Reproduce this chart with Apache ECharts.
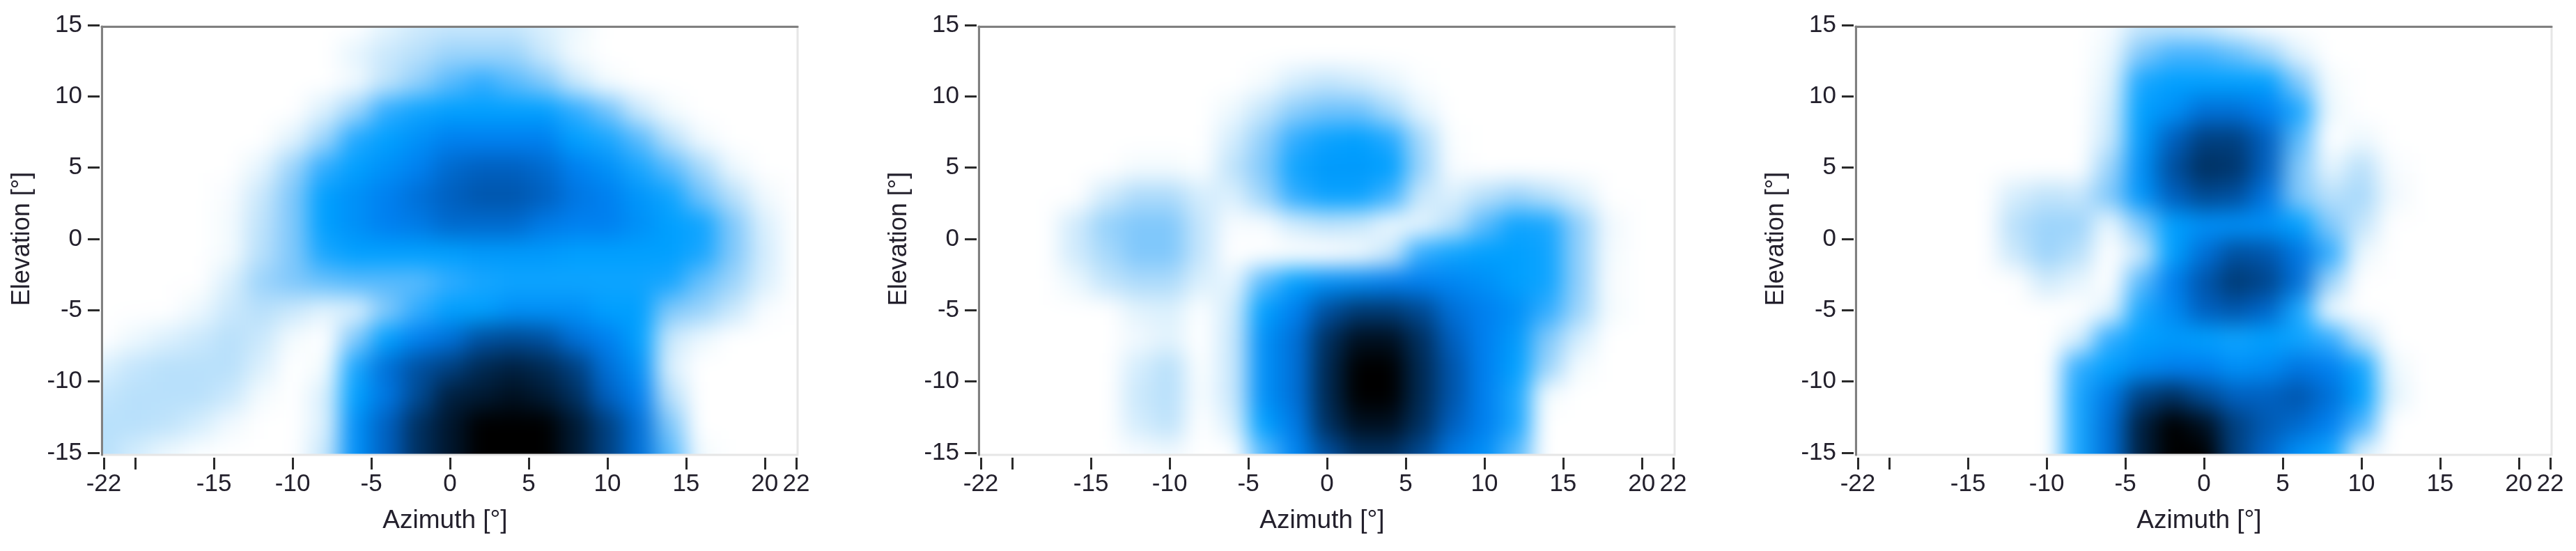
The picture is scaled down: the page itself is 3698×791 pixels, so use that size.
<!DOCTYPE html>
<html><head><meta charset="utf-8">
<style>
html,body{margin:0;padding:0;background:#fff;width:3698px;height:791px;overflow:hidden}
.clip{position:absolute;overflow:hidden}
.heat{position:absolute;filter:blur(16px)}
#axes{position:absolute;left:0;top:0;width:3698px;height:791px}
</style>
<script src="https://cdn.jsdelivr.net/npm/echarts@6/dist/echarts.min.js"></script>
</head><body>
<div id="axes"></div>
<script>
// sample centres, degrees
const azimuthCells = [-22,-20,-18,-16,-14,-12,-10,-8,-6,-4,-2,0,2,4,6,8,10,12,14,16,18,20,22];
const elevationCells = [15,13,11,9,7,5,3,1,-1,-3,-5,-7,-9,-11,-13,-15];
const azimuthTicks = [-22,-20,-15,-10,-5,0,5,10,15,20,22];
const azimuthLabels = [-22,-15,-10,-5,0,5,10,15,20,22];
const elevationTicks = [-15,-10,-5,0,5,10,15];

// intensity 0 (none) .. 10 (peak); one row per elevation, one column per azimuth
const panelLeft = [
[0,0,0,0,0,0,0,0,0,.7,1.3,1.5,1.5,1.5,1,.5,0,0,0,0,0,0,0],
[0,0,0,0,0,0,0,0,.7,1.5,2,2.5,2.5,2.5,1.5,.3,0,0,0,0,0,0,0],
[0,0,0,0,0,0,0,0,.4,1.8,2.7,3.5,4,3.5,3,1.5,.3,0,0,0,0,0,0],
[0,0,0,0,0,0,0,1,2.5,4,4.7,5,5,5,5,4,3.2,1.5,.3,0,0,0,0],
[0,0,0,0,0,0,.8,2.5,4.3,5,5.5,6,6,6,6,5,4.5,3.5,2,.4,0,0,0],
[0,0,0,0,0,.7,2.5,4,5,5.5,6,6.7,7,7,6.7,6,5.5,4.5,3.5,2.3,.5,0,0],
[0,0,0,0,.2,1.5,3,5,5.5,6,6.5,7,7.3,7.3,7,6.3,6,5.3,4.7,3.2,2,.4,0],
[0,0,0,0,.3,1.8,3,5,5.5,6,6.2,6.7,6.7,6.7,6.2,6,6,5.5,5,4.7,3,1,0],
[0,0,0,0,.3,2,3,4.5,5,5,5,5,5.2,5.2,5.2,5,5,5,5,4.5,3,1.2,0],
[0,0,0,0,1,2.5,3,3.3,3.5,3.5,3.5,4,4.5,4.7,4.7,4.7,4.7,4.7,4.5,3.3,2.5,1,0],
[0,0,0,.5,1.5,2,1.5,.8,1,3,4,5,5,5.5,5.5,5.5,5,5,3,2.5,1.5,.2,0],
[0,.5,1,1.5,2,1.5,.3,0,3,5,6,6.5,7.5,7.7,7.5,6.5,6,5,1.5,.5,0,0,0],
[1,1.7,2,2,2,1,0,.3,4.5,6.5,7.5,8,8.7,9,8.7,8,6.5,5.5,1,0,0,0,0],
[1.7,2,2,2,1.5,.3,0,1,5,6.3,7.7,9,9.2,9.5,9.2,8.5,7,6,2,0,0,0,0],
[2,2,1.8,1.2,.4,0,0,1,5.5,7,8.5,9.3,10,10,10,9.2,8,6.5,3,0,0,0,0],
[2,1.2,.5,.1,0,0,0,1.5,5.5,7,8.5,9.3,10,10,10,9.2,8,6.5,3.5,.3,0,0,0]
];
const panelMiddle = [
[0,0,0,0,0,0,0,0,0,0,0,0,0,0,0,0,0,0,0,0,0,0,0],
[0,0,0,0,0,0,0,0,0,0,0,0,0,0,0,0,0,0,0,0,0,0,0],
[0,0,0,0,0,0,0,0,0,.3,1.2,1.7,1.3,.7,.1,0,0,0,0,0,0,0,0],
[0,0,0,0,0,0,0,0,.5,1.7,2.8,3.2,3.2,2.3,.7,0,0,0,0,0,0,0,0],
[0,0,0,0,0,0,0,0,1.2,2.7,4,4.8,5,4.3,2.3,.1,0,0,0,0,0,0,0],
[0,0,0,0,0,.3,.3,.1,1.8,3,4.7,5.2,5.2,5,2.5,.2,0,0,0,0,0,0,0],
[0,0,0,0,1.3,2.2,2.2,1.2,1,2.5,4,4.8,4.8,3.8,1.5,1,2,2.5,2,1,0,0,0],
[0,0,0,1.3,2.6,3,3,1.6,.2,.2,1.2,1.7,1.5,.5,.7,2,3.5,4.7,4.5,2.7,.4,0,0],
[0,0,0,1.3,2.3,3,3,1.6,0,0,0,0,.3,1.5,4,4.7,5,5,4.7,2.7,.3,0,0],
[0,0,0,.5,1.7,2.2,2.2,1,.7,3.5,5,5.5,5.7,6,6,5.8,5.5,5,4.7,2.7,.2,0,0],
[0,0,0,0,0,.8,1,.1,1.3,5,6,7.5,8.2,8.2,7.7,6.5,6,5.5,4,2.5,.3,0,0],
[0,0,0,0,0,.4,.8,0,1.5,5.5,6.5,8.5,9.5,9.5,8.5,7,6,5.2,3,1.2,0,0,0],
[0,0,0,0,0,1.2,2,.1,1.5,5.5,6.5,8.7,10,10,8.7,7.3,6,5,2.5,.3,0,0,0],
[0,0,0,0,0,1.5,2,.2,1.5,5.5,6.5,8.7,10,10,8.7,7.3,6,4.5,.3,0,0,0,0],
[0,0,0,0,0,1.2,1.8,0,1,5,6.2,8.5,9.5,9.5,8.5,7,6,4.5,0,0,0,0,0],
[0,0,0,0,0,.2,.4,0,0,3.5,5.8,7.5,8.5,8.5,7.7,6.2,5.5,3.5,0,0,0,0,0]
];
const panelRight = [
[0,0,0,0,0,0,0,0,.2,1.5,1.5,1.2,.5,0,0,0,0,0,0,0,0,0,0],
[0,0,0,0,0,0,0,0,.5,3,3.7,3.7,3.3,2.5,.8,0,0,0,0,0,0,0,0],
[0,0,0,0,0,0,0,0,.8,4.5,5,5,5,5,3,.3,0,0,0,0,0,0,0],
[0,0,0,0,0,0,0,0,1.2,5,5.5,6.5,6.5,6,4.5,.5,0,0,0,0,0,0,0],
[0,0,0,0,0,0,0,0,1.5,5.2,7,8,8,7,3.5,0,.5,0,0,0,0,0,0],
[0,0,0,0,0,0,0,0,2.5,5.5,7.5,8.5,8.3,7,3,.7,2,.2,0,0,0,0,0],
[0,0,0,0,0,1.2,1.8,1.6,3,5.3,7,7.7,7.5,6.3,3,2,2.3,.4,0,0,0,0,0],
[0,0,0,0,0,2,2.5,2.5,.5,3,5,5.5,5.5,5.5,5,3,1.7,0,0,0,0,0,0],
[0,0,0,0,0,1.5,2.5,2,0,1.5,5,6.5,7.5,7.3,6.3,4,.5,0,0,0,0,0,0],
[0,0,0,0,0,0,1.3,.7,0,3.5,6,7.3,8.2,7.8,6.5,2.5,0,0,0,0,0,0,0],
[0,0,0,0,0,0,0,0,.8,4.5,5.7,7,7.3,6.8,4.5,.5,0,0,0,0,0,0,0],
[0,0,0,0,0,0,0,1,4,5,5.2,5,4.7,5,4.7,4,2,0,0,0,0,0,0],
[0,0,0,0,0,0,0,4,5,5.7,6,6,5.5,5.7,6.3,6,4.7,.5,0,0,0,0,0],
[0,0,0,0,0,0,0,4.5,6.2,8,8.5,7.7,7,7,7.3,6.5,5,.8,0,0,0,0,0],
[0,0,0,0,0,0,0,4.5,6.5,9,10,9.5,8,7.2,6.7,6,3.7,0,0,0,0,0,0],
[0,0,0,0,0,0,0,4.5,6.5,9,10,10,8,6.8,5.5,4.7,1,0,0,0,0,0,0]
];
const panels = [panelLeft, panelMiddle, panelRight];
const intensityColors = ['#ffffff','#dbf0fd','#b8e0fb','#80c8fb','#30acff','#00a0ff','#0080f0','#0060c0','#004080','#002040','#000000'];

const panelX = [149, 1408, 2667];   // x of azimuth -22
const plotW = 994, plotH = 614, plotTop = 36;
const pxDegX = plotW / 44, pxDegY = plotH / 30;
const PAD = 3;                       // edge cells repeated beyond the frame so the blur does not fade at the edges

panels.forEach((rows, p) => {
  const clip = document.createElement('div');
  clip.className = 'clip';
  clip.style.cssText = `left:${panelX[p]-2}px;top:39px;width:${plotW+4}px;height:613px`;
  const heat = document.createElement('div');
  heat.className = 'heat';
  const degW = 46 + 4*PAD, degH = 32 + 4*PAD;
  const left = panelX[p] - (1 + 2*PAD) * pxDegX, top = plotTop - (1 + 2*PAD) * pxDegY;
  heat.style.cssText += `left:${left-(panelX[p]-2)}px;top:${top-39}px;width:${degW*pxDegX}px;height:${degH*pxDegY}px`;
  clip.appendChild(heat);
  document.body.insertBefore(clip, document.getElementById('axes'));
  const xs = [], ys = [], data = [];
  for (let i = -PAD; i < azimuthCells.length + PAD; i++) xs.push('x' + i);
  for (let j = -PAD; j < elevationCells.length + PAD; j++) ys.push('y' + j);
  for (let j = -PAD; j < elevationCells.length + PAD; j++) {
    const r = rows[Math.min(elevationCells.length-1, Math.max(0, j))];
    for (let i = -PAD; i < azimuthCells.length + PAD; i++) {
      data.push([i + PAD, elevationCells.length + PAD - 1 - j + 0, r[Math.min(azimuthCells.length-1, Math.max(0, i))]]);
    }
  }
  const chart = echarts.init(heat, null, {renderer:'canvas'});
  chart.setOption({
    animation:false,
    grid:{left:0,right:0,top:0,bottom:0},
    xAxis:{type:'category',data:xs,show:false},
    yAxis:{type:'category',data:ys,show:false},
    visualMap:{show:false,min:0,max:10,inRange:{color:intensityColors},dimension:2,calculable:false},
    series:[{type:'heatmap',data,progressive:0,animation:false,emphasis:{disabled:true}}]
  });
});

const textColor = '#23202c';
const uiFont = '"Liberation Sans",sans-serif';
const grids = [], xAxes = [], yAxes = [];
panelX.forEach((x0, p) => {
  const g0 = grids.length;
  grids.push({show:true,left:x0-3,top:38,width:999,height:615,borderColor:'#e6e6e6',borderWidth:3,backgroundColor:'transparent'});
  grids.push({left:x0,top:plotTop,width:plotW,height:plotH});
  xAxes.push({gridIndex:g0,type:'value',position:'top',min:0,max:1,
    axisLine:{show:true,onZero:false,lineStyle:{color:'#808080',width:3}},axisTick:{show:false},axisLabel:{show:false},splitLine:{show:false}});
  yAxes.push({gridIndex:g0,type:'value',position:'left',min:0,max:1,
    axisLine:{show:true,onZero:false,lineStyle:{color:'#808080',width:3}},axisTick:{show:false},axisLabel:{show:false},splitLine:{show:false}});
  xAxes.push({gridIndex:g0+1,type:'value',position:'bottom',offset:7,min:-22,max:22,
    name:'Azimuth [°]',nameLocation:'middle',nameGap:91,
    nameTextStyle:{fontFamily:uiFont,fontSize:37,color:textColor,verticalAlign:'middle',padding:[0,14,0,0]},
    axisLine:{show:false,onZero:false},
    axisTick:{show:true,length:17,customValues:azimuthTicks,lineStyle:{color:'#2a2a2a',width:3}},
    axisLabel:{show:true,customValues:azimuthLabels,margin:21,fontFamily:uiFont,fontSize:35,color:textColor,hideOverlap:false},
    splitLine:{show:false}});
  yAxes.push({gridIndex:g0+1,type:'value',position:'left',offset:6,min:-15,max:15,
    name:'Elevation [°]',nameLocation:'middle',nameGap:111,nameRotate:90,
    nameTextStyle:{fontFamily:uiFont,fontSize:36,color:textColor,verticalAlign:'middle'},
    axisLine:{show:false,onZero:false},
    axisTick:{show:true,length:17,customValues:elevationTicks,lineStyle:{color:'#2a2a2a',width:3}},
    axisLabel:{show:true,customValues:elevationTicks,margin:25,fontFamily:uiFont,fontSize:35,color:textColor,hideOverlap:false},
    splitLine:{show:false}});
});
const axesChart = echarts.init(document.getElementById('axes'), null, {renderer:'canvas'});
axesChart.setOption({animation:false,backgroundColor:'transparent',grid:grids,xAxis:xAxes,yAxis:yAxes,series:[]});
</script>
</body></html>
